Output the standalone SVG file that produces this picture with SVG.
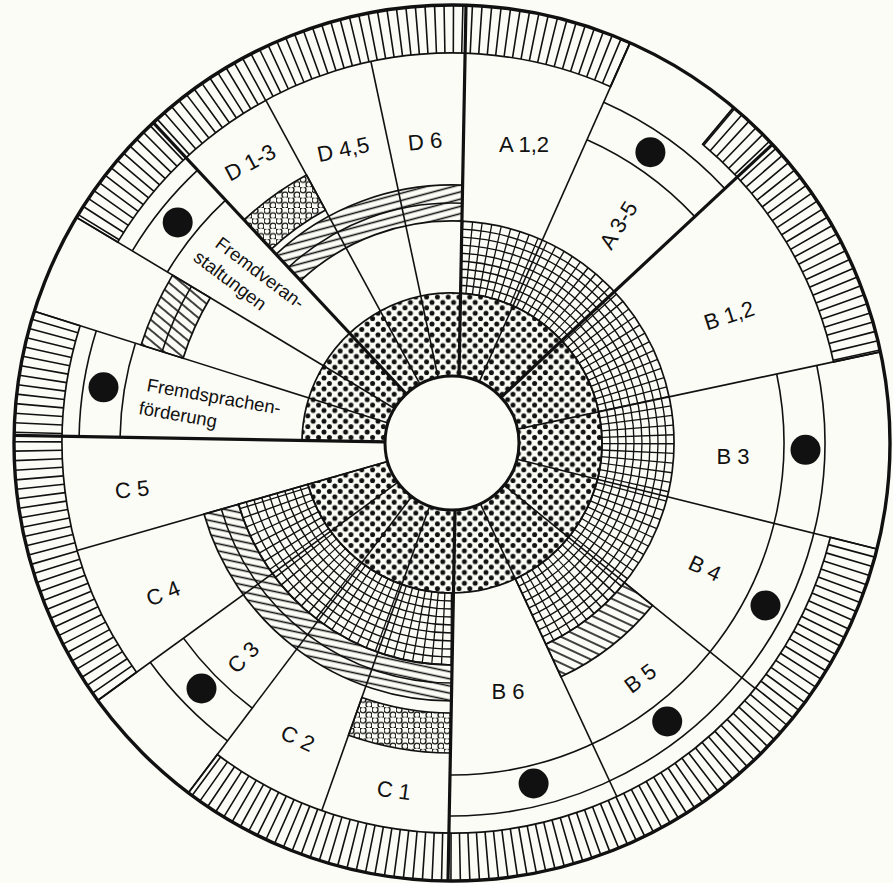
<svg xmlns="http://www.w3.org/2000/svg" width="893" height="883" viewBox="0 0 893 883">
<style>
.ln{fill:none;stroke:#111;stroke-width:1.6}
.tk{fill:none;stroke:#111;stroke-width:3.2}
.ol{fill:none;stroke:#111;stroke-width:1.7}
.lb{font-family:"Liberation Sans",Arial,sans-serif;font-size:22px;fill:#111;text-anchor:middle}
.lf{font-family:"Liberation Sans",Arial,sans-serif;font-size:18.5px;fill:#111}
.dot{fill:#111}
</style>
<defs>
<pattern id="dots" patternUnits="userSpaceOnUse" width="10.8" height="10.8">
<g fill="#111"><circle cx="0" cy="0" r="2.5"/><circle cx="10.8" cy="0" r="2.5"/><circle cx="0" cy="10.8" r="2.5"/><circle cx="10.8" cy="10.8" r="2.5"/><circle cx="5.4" cy="5.4" r="2.5"/></g>
</pattern>
<pattern id="hD" patternUnits="userSpaceOnUse" width="20" height="7" patternTransform="rotate(-15)"><line x1="0" y1="3.5" x2="20" y2="3.5" stroke="#111" stroke-width="1.6"/></pattern>
<pattern id="hC" patternUnits="userSpaceOnUse" width="20" height="7" patternTransform="rotate(12)"><line x1="0" y1="3.5" x2="20" y2="3.5" stroke="#111" stroke-width="1.6"/></pattern>
<pattern id="hB" patternUnits="userSpaceOnUse" width="20" height="8" patternTransform="rotate(25)"><line x1="0" y1="4" x2="20" y2="4" stroke="#111" stroke-width="1.6"/></pattern>
<pattern id="hX" patternUnits="userSpaceOnUse" width="20" height="8" patternTransform="rotate(40)"><line x1="0" y1="4" x2="20" y2="4" stroke="#111" stroke-width="1.6"/></pattern>
<pattern id="circ" patternUnits="userSpaceOnUse" width="12" height="10.4">
<g fill="none" stroke="#111" stroke-width="1.3"><circle cx="3" cy="2.6" r="3"/><circle cx="9" cy="7.8" r="3"/></g>
</pattern>
<path id="dotRing" d="M302.0,440.4 A150,150 0 1 1 307.8,484.3 L387.6,461.5 A67,67 0 1 0 385.0,441.8 Z"/>
<path id="g1" d="M461.9,221.2 A222,222 0 0 1 545.8,644.2 L515.4,578.9 A150,150 0 0 0 460.6,293.25 Z"/>
<path id="g2" d="M452.1,665 A222,222 0 0 1 238.6,504.2 L307.8,484.3 A150,150 0 0 0 453.4,593 Z"/>
<path id="bd1" d="M76.5,217.4 A438,438 0 0 1 630.1,42.9 L610.6,86.7 A390,390 0 0 0 117.7,242.1 Z"/>
<path id="bd2" d="M733.5,107.5 A438,438 0 0 1 880.4,351.9 L833.5,361.9 A390,390 0 0 0 702.7,144.3 Z"/>
<path id="bd3" d="M877.0,549.0 A438,438 0 0 1 188.4,792.8 L217.3,754.5 A390,390 0 0 0 830.4,537.3 Z"/>
<path id="bd4" d="M97.7,700.5 A438,438 0 0 1 34.3,311.3 L80.1,325.7 A390,390 0 0 0 136.5,672.2 Z"/>
<clipPath id="gridClip"><use href="#g1"/><use href="#g2"/></clipPath>
<clipPath id="bandClip"><use href="#bd1"/><use href="#bd2"/><use href="#bd3"/><use href="#bd4"/></clipPath>
</defs>
<rect x="0" y="0" width="893" height="883" fill="#fcfcf6"/>

<g id="rings">
<circle cx="452" cy="443" r="438" fill="#fcfcf6"/>
<use href="#dotRing" fill="url(#dots)"/>
<use href="#dotRing" class="ol"/>
<g clip-path="url(#gridClip)" fill="none" stroke="#111" stroke-width="1.35">
<circle cx="452" cy="443" r="158"/><circle cx="452" cy="443" r="166"/><circle cx="452" cy="443" r="174"/><circle cx="452" cy="443" r="182"/><circle cx="452" cy="443" r="190"/><circle cx="452" cy="443" r="198"/><circle cx="452" cy="443" r="206"/><circle cx="452" cy="443" r="214"/>
<circle cx="452" cy="443" r="186" stroke-width="72" stroke-dasharray="1.3 6.816"/>
</g>
<use href="#g1" class="ol"/>
<use href="#g2" class="ol"/>
<path d="M276.0,254.3 A258,258 0 0 1 462.6,185.2 L461.9,221.2 A222,222 0 0 0 300.6,280.6 Z" class="ol" style="fill:url(#hD)"/>
<path d="M288.3,267.5 A240,240 0 0 1 462.2,203.2" class="ln"/>
<path d="M652.5,605.4 A258,258 0 0 1 561.0,676.8 L545.8,644.2 A222,222 0 0 0 624.5,582.7 Z" class="ol" style="fill:url(#hB)"/>
<path d="M451.4,701 A258,258 0 0 1 204.0,514.1 L238.6,504.2 A222,222 0 0 0 452.1,665 Z" class="ol" style="fill:url(#hC)"/>
<path d="M451.7,683 A240,240 0 0 1 221.3,509.1" class="ln"/>
<path d="M244.0,219.9 A305,305 0 0 1 306.5,175.0 L325.5,210.1 A265,265 0 0 0 271.3,249.2 Z" class="ol" style="fill:url(#circ)"/>
<path d="M450.6,753 A310,310 0 0 1 348.5,735.2 L361.9,697.5 A270,270 0 0 0 451.2,713 Z" class="ol" style="fill:url(#circ)"/>
<path d="M141.1,345.0 A326,326 0 0 1 172.6,275.1 L210.3,297.8 A282,282 0 0 0 183.1,358.2 Z" class="ol" style="fill:url(#hX)"/>
<path d="M162.1,351.6 A304,304 0 0 1 191.4,286.4" class="ln"/>
<g class="ln">
<path d="M587.0,139.7 A332,332 0 0 1 694.8,216.6"/><path d="M603.7,102.3 A373,373 0 0 1 724.8,188.6"/>
<path d="M776.7,374.0 A332,332 0 0 1 450.1,775"/><path d="M816.8,365.5 A373,373 0 0 1 449.4,816"/>
<path d="M252.2,708.1 A332,332 0 0 1 183.4,638.1"/><path d="M227.5,740.9 A373,373 0 0 1 150.2,662.2"/>
<path d="M120.05,437.2 A332,332 0 0 1 135.4,343.2"/><path d="M79.1,436.5 A373,373 0 0 1 96.3,330.8"/>
<path d="M167.4,272.0 A332,332 0 0 1 225.6,200.2"/><path d="M132.3,250.9 A373,373 0 0 1 197.6,170.2"/>
</g>
<g clip-path="url(#bandClip)">
<circle cx="452" cy="443" r="414" fill="none" stroke="#111" stroke-width="48" stroke-dasharray="1.6 7.432"/>
</g>
<use href="#bd1" class="ol"/><use href="#bd2" class="ol"/><use href="#bd3" class="ol"/><use href="#bd4" class="ol"/>
<circle cx="452" cy="443" r="438" fill="none" stroke="#111" stroke-width="3.4"/>
<circle cx="452" cy="443" r="67" fill="#fcfcf6" stroke="#111" stroke-width="3"/>
</g>

<g id="connectors">
<line class="ln" x1="388.1" y1="422.9" x2="34.3" y2="311.3"/>
<line class="ln" x1="394.6" y1="408.5" x2="76.5" y2="217.4"/>
<line class="ln" x1="420.0" y1="384.1" x2="265.9" y2="100.3"/>
<line class="ln" x1="438.1" y1="377.5" x2="370.9" y2="61.5"/>
<line class="ln" x1="479.2" y1="381.8" x2="630.1" y2="42.9"/>
<line class="ln" x1="702.7" y1="144.3" x2="733.5" y2="107.5"/>
<line class="ln" x1="517.5" y1="429.1" x2="880.4" y2="351.9"/>
<line class="ln" x1="517.0" y1="459.2" x2="877.0" y2="549.0"/>
<line class="ln" x1="504.1" y1="485.2" x2="755.1" y2="688.4"/>
<line class="ln" x1="480.3" y1="503.7" x2="616.8" y2="796.5"/>
<line class="ln" x1="429.6" y1="506.2" x2="321.8" y2="810.6"/>
<line class="ln" x1="411.7" y1="496.5" x2="188.4" y2="792.8"/>
<line class="ln" x1="397.8" y1="482.4" x2="97.7" y2="700.5"/>
<line class="ln" x1="387.6" y1="461.5" x2="77.1" y2="550.5"/>
<line class="tk" x1="406.3" y1="394.0" x2="153.3" y2="122.6"/>
<line class="tk" x1="459" y1="376" x2="466" y2="5"/>
<line class="tk" x1="501.0" y1="397.3" x2="772.4" y2="144.3"/>
<line class="tk" x1="455" y1="510" x2="448" y2="881"/>
<line class="tk" x1="385.0" y1="441.8" x2="14.1" y2="435.4"/>
</g>

<g id="markers">
<circle class="dot" cx="650.4" cy="152.2" r="15"/>
<circle class="dot" cx="805.5" cy="449.8" r="15"/>
<circle class="dot" cx="765.5" cy="605.5" r="15"/>
<circle class="dot" cx="667.2" cy="721.5" r="15"/>
<circle class="dot" cx="533.6" cy="783.5" r="15"/>
<circle class="dot" cx="201.5" cy="688.5" r="15"/>
<circle class="dot" cx="103.5" cy="387.3" r="15"/>
<circle class="dot" cx="177.7" cy="222.4" r="15"/>
</g>

<g id="sector-D13"><text class="lb" x="250" y="170" transform="rotate(-28 250 162)">D 1-3</text></g>
<g id="sector-D45"><text class="lb" x="343" y="157" transform="rotate(-12 343 149)">D 4,5</text></g>
<g id="sector-D6"><text class="lb" x="425" y="149" transform="rotate(-6 425 141)">D 6</text></g>
<g id="sector-A12"><text class="lb" x="524" y="152">A 1,2</text></g>
<g id="sector-A35"><text class="lb" x="618" y="233" transform="rotate(-58 618 225)">A 3-5</text></g>
<g id="sector-B12"><text class="lb" x="729" y="323" transform="rotate(-18 729 315)">B 1,2</text></g>
<g id="sector-B3"><text class="lb" x="733" y="464">B 3</text></g>
<g id="sector-B4"><text class="lb" x="705" y="576" transform="rotate(25 705 568)">B 4</text></g>
<g id="sector-B5"><text class="lb" x="640" y="686" transform="rotate(-37 640 678)">B 5</text></g>
<g id="sector-B6"><text class="lb" x="508" y="699">B 6</text></g>
<g id="sector-C1"><text class="lb" x="394" y="798" transform="rotate(8 394 790)">C 1</text></g>
<g id="sector-C2"><text class="lb" x="298" y="746" transform="rotate(25 298 738)">C 2</text></g>
<g id="sector-C3"><text class="lb" x="243" y="665" transform="rotate(-45 243 657)">C 3</text></g>
<g id="sector-C4"><text class="lb" x="163" y="601" transform="rotate(-22 163 593)">C 4</text></g>
<g id="sector-C5"><text class="lb" x="132" y="497" transform="rotate(-6 132 489)">C 5</text></g>
<g id="sector-Fremdsprachen"><text class="lf" transform="rotate(10 146 391)"><tspan x="146" y="391">Fremdsprachen-</tspan><tspan x="142" y="415">förderung</tspan></text></g>
<g id="sector-Fremdveranstaltungen"><text class="lf" transform="rotate(37 214 246)"><tspan x="214" y="246">Fremdveran-</tspan><tspan x="205" y="270">staltungen</tspan></text></g>
</svg>
